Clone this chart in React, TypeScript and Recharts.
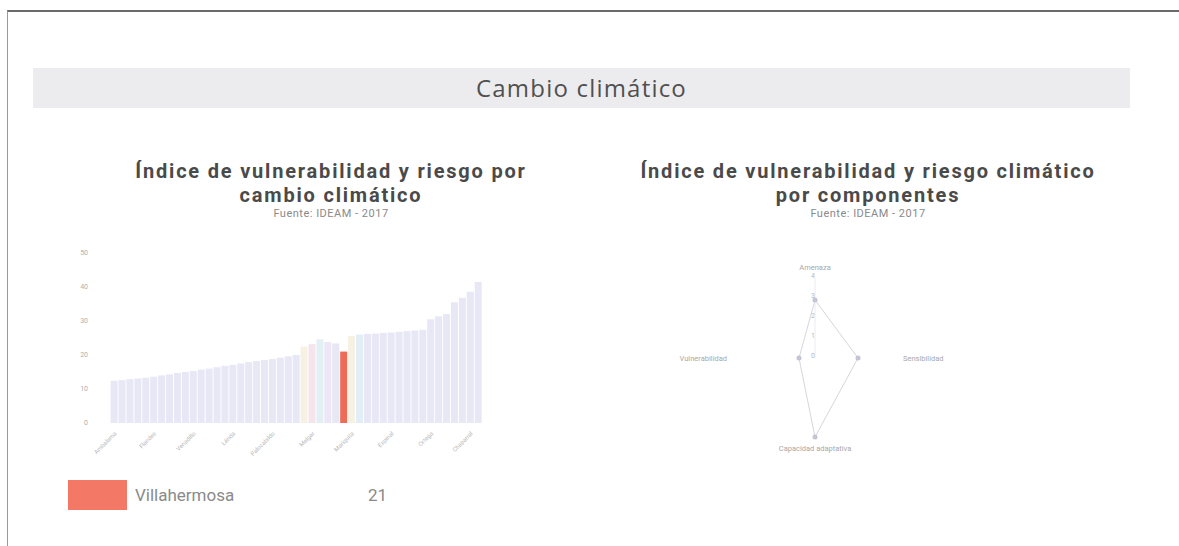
import React from 'react';
import {
    BarChart, Bar, XAxis, YAxis, Cell,
    RadarChart, Radar, PolarAngleAxis, PolarRadiusAxis
} from 'recharts';

// Municipios (orden del gráfico) y su índice de vulnerabilidad y riesgo
const municipios = [
    'Ambalema', 'Piedras', 'Coello', 'Alvarado', 'Murillo', 'Flandes', 'Suárez', 'Alpujarra',
    'Anzoátegui', 'Prado', 'Venadillo', 'Valle de San Juan', 'Carmen de Apicalá', 'Cunday', 'Dolores',
    'Lérida', 'Villarrica', 'Icononzo', 'Casabianca', 'Herveo', 'Palocabildo', 'Falan', 'Santa Isabel',
    'San Luis', 'Armero', 'Melgar', 'Roncesvalles', 'Saldaña', 'Coyaima', 'Villahermosa', 'Mariquita',
    'Guamo', 'Natagaima', 'Purificación', 'Honda', 'Espinal', 'Fresno', 'Cajamarca', 'San Antonio',
    'Rovira', 'Ortega', 'Líbano', 'Ataco', 'Rioblanco', 'Planadas', 'Chaparral', 'Ibagué'
];
const indice = [
    12.4, 12.6, 12.9, 13.1, 13.3, 13.6, 14.0, 14.3,
    14.7, 15.0, 15.3, 15.7, 16.0, 16.4, 16.8,
    17.1, 17.5, 17.9, 18.2, 18.5, 18.8, 19.2, 19.6,
    20.0, 22.5, 23.2, 24.6, 23.8, 23.4, 21.0, 25.6,
    26.0, 26.2, 26.3, 26.5, 26.6, 26.8, 27.0, 27.2,
    27.4, 30.5, 31.4, 32.0, 35.5, 36.8, 38.6, 41.5
];
const yTicks = [0, 10, 20, 30, 40, 50];
const destacado = 'Villahermosa';
const valorDestacado = 21;

// Componentes del índice para el municipio destacado
const componentes = ['Amenaza', 'Sensibilidad', 'Capacidad adaptativa', 'Vulnerabilidad'];
const valoresComponentes = [2.9, 2.15, 3.95, 0.8];

const tints: Record<string, string> = {
    Armero: '#f6f1e2',
    Melgar: '#f5e4ec',
    Roncesvalles: '#e2f0f4',
    Saldaña: '#ece6f6',
    Mariquita: '#f6f1e2',
    Guamo: '#e2eef6',
};

const barData = municipios.map((m, i) => ({ municipio: m, valor: indice[i] }));
const radarData = componentes.map((c, i) => ({ componente: c, valor: valoresComponentes[i] }));

const titleStyle: React.CSSProperties = {
    position: 'absolute', textAlign: 'center', color: '#4a4a4a',
    fontWeight: 700, fontSize: 20, lineHeight: '24px', letterSpacing: 1.8
};
const sourceStyle: React.CSSProperties = {
    fontWeight: 400, fontSize: 11, lineHeight: '14px', color: '#8a8a8a', letterSpacing: 0.5
};

export default function App() {
    return (
        <div style={{
            position: 'absolute', left: 0, top: 0, width: 1179, height: 546,
            background: '#fff', overflow: 'hidden', fontFamily: 'Roboto, sans-serif'
        }}>
            <div style={{
                position: 'absolute', left: 7, top: 10, width: 1180, height: 540,
                borderTop: '2px solid #6a6a6a', borderLeft: '1px solid #9a9a9a'
            }} />

            {/* banda de encabezado */}
            <div style={{
                position: 'absolute', left: 33, top: 68, width: 1097, height: 40,
                background: '#ececef', color: '#505050', fontSize: 24,
                fontFamily: '"Open Sans", sans-serif', letterSpacing: 1.2,
                lineHeight: '40px', textAlign: 'center'
            }}>
                Cambio climático
            </div>

            {/* títulos */}
            <div style={{ ...titleStyle, left: 71, top: 159, width: 520 }}>
                Índice de vulnerabilidad y riesgo por<br />cambio climático
                <div style={sourceStyle}>Fuente: IDEAM - 2017</div>
            </div>
            <div style={{ ...titleStyle, left: 600, top: 159, width: 536 }}>
                Índice de vulnerabilidad y riesgo climático<br />por componentes
                <div style={sourceStyle}>Fuente: IDEAM - 2017</div>
            </div>

            {/* barras por municipio */}
            <div style={{ position: 'absolute', left: 60, top: 240 }}>
                <BarChart width={440} height={230} data={barData}
                    margin={{ top: 13, right: 18, left: 0, bottom: 0 }} barCategoryGap="8%">
                    <XAxis dataKey="municipio" interval={4} angle={-45} textAnchor="end"
                        height={47} axisLine={false} tickLine={false}
                        tick={{ fontSize: 6, fill: '#b8b8b8' }} />
                    <YAxis domain={[0, 50]} ticks={yTicks} width={50} axisLine={false}
                        tickLine={false} tickSize={0} tickMargin={22}
                        tick={{ fontSize: 7, fill: '#b0b0b0' }} />
                    <Bar dataKey="valor" isAnimationActive={false}>
                        {barData.map(d => (
                            <Cell key={d.municipio}
                                fill={d.municipio === destacado ? '#ef6a57' : (tints[d.municipio] || '#e7e7f6')} />
                        ))}
                    </Bar>
                </BarChart>
            </div>

            {/* leyenda del municipio */}
            <div style={{ position: 'absolute', left: 68, top: 480, width: 59, height: 30, background: '#f47866' }} />
            <div style={{ position: 'absolute', left: 135, top: 484, fontSize: 17, lineHeight: '22px', color: '#8a8a8a' }}>
                {destacado}
            </div>
            <div style={{ position: 'absolute', left: 368, top: 484, fontSize: 17, lineHeight: '22px', color: '#8a8a8a' }}>
                {valorDestacado}
            </div>

            {/* radar por componentes */}
            <div style={{ position: 'absolute', left: 665, top: 238 }}>
                <RadarChart width={300} height={240} cx={150} cy={120} outerRadius={80} data={radarData}>
                    <PolarAngleAxis dataKey="componente" tickLine={false} axisLine={false}
                        tick={{ fontSize: 7.5, fill: '#a8a8a8' }} />
                    <PolarRadiusAxis angle={90} domain={[0, 4]} tickCount={5} orientation="left"
                        axisLine={{ stroke: '#ececf0' }} tickLine={false}
                        tick={{ fontSize: 7, fill: '#b8b8c0' }} />
                    <Radar dataKey="valor" stroke="#d6d6de" strokeWidth={1} fill="none"
                        dot={{ r: 2.5, fill: '#c4c4d2', stroke: 'none' }} isAnimationActive={false} />
                </RadarChart>
            </div>
        </div>
    );
}
